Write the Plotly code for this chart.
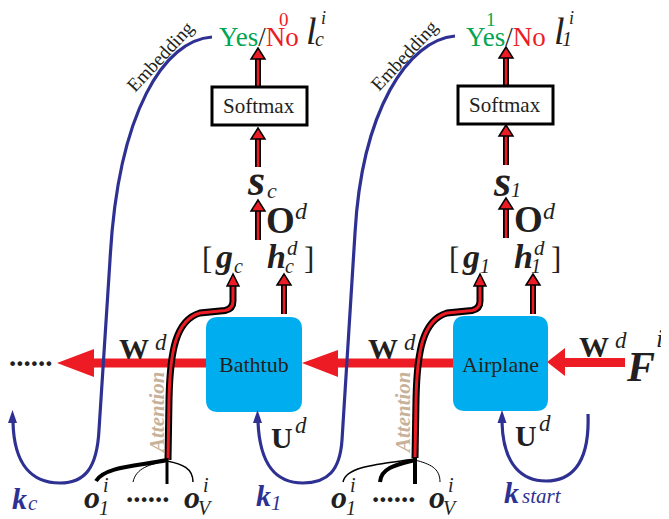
import plotly.graph_objects as go

# ---------------- content (text of the diagram) ----------------
node_labels = ["Bathtub", "Airplane"]
col_subs = ["c", "1"]                      # column subscripts
decision_marks = ["0", "1"]
decision_colors = ["#ED1C24", "#00A651"]
loop_subs = ["c", "1", "start"]
head_label = "Softmax"
edge_label_w = "W"
edge_label_u = "U"
edge_label_o = "O"
feature_label = "F"
curve_label = "Embedding"
attention_label = "Attention"
obj_subs = ["1", "V"]

# ---------------- styles ----------------
W, H = 669, 519
PAD = 8            # page body margin of the browser
RED = "#ED1C24"
GREEN = "#00A651"
BLUE = "#2E3192"
CYAN = "#00AEEF"
TAN = "#C7B299"
INK = "#231F20"
FONT = "Liberation Serif"

shapes = []
annotations = []


def path(d, fill=None, line_color=None, width=0, layer="above"):
    s = dict(type="path", path=d, xref="x", yref="y", layer=layer,
             line=dict(color=line_color or "rgba(0,0,0,0)", width=width))
    if fill:
        s["fillcolor"] = fill
    shapes.append(s)


def line(d, color, width):
    path(d, None, color, width)


def txt(x, y, s, size, color=INK, angle=0, xanchor="center"):
    annotations.append(dict(x=x, y=y, xref="x", yref="y", text=s, showarrow=False,
                            font=dict(family=FONT, size=size, color=color),
                            textangle=angle, xanchor=xanchor, yanchor="middle",
                            borderpad=0))


def rrect(x0, y0, x1, y1, r):
    return (f"M {x0+r} {y0} L {x1-r} {y0} Q {x1} {y0} {x1} {y0+r} L {x1} {y1-r} "
            f"Q {x1} {y1} {x1-r} {y1} L {x0+r} {y1} Q {x0} {y1} {x0} {y1-r} "
            f"L {x0} {y0+r} Q {x0} {y0} {x0+r} {y0} Z")


def up_head(x, tip, hw=7, hh=11):
    path(f"M {x} {tip} L {x-hw} {tip+hh} L {x+hw} {tip+hh} Z", RED, "#000000", 1.5)


def up_arrow(x, y0, tip):
    line(f"M {x} {y0} L {x} {tip+8}", "#000000", 6)
    line(f"M {x} {y0} L {x} {tip+8}", RED, 2.5)
    up_head(x, tip)


# ---------------- red horizontal arrows (W^d) ----------------
path("M 90 358.5 L 206 358.5 L 206 367.5 L 90 367.5 Z", RED)
path("M 57 363 L 94 349 L 94 377 Z", RED)
path("M 336 358.5 L 453 358.5 L 453 367.5 L 336 367.5 Z", RED)
path("M 302 363 L 338 350 L 338 377 Z", RED)
path("M 563 358 L 625 358 L 625 367 L 563 367 Z", RED)
path("M 547 362 L 565 348 L 565 376 Z", RED)

# ---------------- cyan nodes ----------------
path(rrect(206, 317, 302, 412, 12), CYAN)
path(rrect(453, 316, 548, 411, 12), CYAN)
txt(254, 364, node_labels[0], 22)
txt(500, 364, node_labels[1], 22)

# ---------------- blue embedding curves ----------------
line("M 212 37 C 165 40, 118 110, 110 260 L 99 430 C 97 468, 85 483, 60 483 "
     "C 33 483, 14 466, 13 422", BLUE, 3.2)
path("M 12.5 410 L 8 423 L 17 423 Z", BLUE)
line("M 455 36 C 408 40, 362 110, 355 233 L 342 440 C 340 470, 328 483, 303 483 "
     "C 278 483, 260 468, 258 422", BLUE, 3.2)
path("M 257.5 410 L 253 423 L 262 423 Z", BLUE)
line("M 588 414 C 590 468, 568 481, 546 481 C 523 481, 503 466, 502 422", BLUE, 3.2)
path("M 502 410 L 497.5 423 L 506.5 423 Z", BLUE)

# ---------------- attention paths ----------------
for d in ["M 168 460 L 169 400 C 170 350, 176 320, 200 313 L 225 310.5 Q 233 309 233 301 L 233 282",
          "M 415 458 L 416 400 C 417 350, 423 320, 447 313 L 472 310.5 Q 480 309 480 301 L 480 282"]:
    line(d, "#000000", 7)
    line(d, RED, 3)
up_head(233, 274, 6, 12)
up_head(480, 274, 6, 12)

# h arrows
up_arrow(284, 314, 274)
up_arrow(533, 314, 274)

# column arrows
for x, segs in [(258, [(240, 200), (167, 128), (87, 48)]),
                (506, [(238, 198), (165, 125), (86, 47)])]:
    for y0, tip in segs:
        up_arrow(x, y0, tip)

# ---------------- fan lines ----------------
line("M 167 460 C 140 466, 105 466, 96 481", "#000000", 4)
line("M 167 461 C 150 464, 136 468, 133 482", "#000000", 1)
line("M 167 458 L 167 484", "#000000", 3)
line("M 167 461 C 182 464, 193 468, 193 482", "#000000", 1.5)
line("M 415 459 C 380 464, 346 466, 343 482", "#000000", 1.5)
line("M 415 460 C 395 465, 381 468, 380 482", "#000000", 4)
line("M 415 457 L 415 484", "#000000", 4)
line("M 415 460 C 430 464, 440 468, 440 482", "#000000", 1)

# ---------------- softmax boxes ----------------
path("M 212 87 L 307 87 L 307 125 L 212 125 Z", "#FFFFFF", "#000000", 3)
path("M 458 86 L 553 86 L 553 124 L 458 124 Z", "#FFFFFF", "#000000", 3)
txt(259, 106, head_label, 21)
txt(505, 105, head_label, 21)

# ---------------- top labels ----------------
yesno = f"<span style='color:{GREEN}'>Yes</span>/<span style='color:{RED}'>No</span>"
txt(258.5, 37, yesno, 27)
txt(505.5, 37, yesno, 27)
txt(284, 19, decision_marks[0], 19, decision_colors[0])
txt(491, 19, decision_marks[1], 19, decision_colors[1])
for xl, sub in [(311, col_subs[0]), (559, col_subs[1])]:
    txt(xl, 31, "<i>l</i>", 38)
    txt(xl + 8, 39, f"<i>{sub}</i>", 20)
    txt(xl + 12, 18, "<i>i</i>", 18)

# s labels
txt(256, 180, "<b><i>s</i></b>", 44)
txt(272, 190, f"<i>{col_subs[0]}</i>", 22)
txt(502, 181, "<b><i>s</i></b>", 44)
txt(516, 190, f"<i>{col_subs[1]}</i>", 20)

# O^d
for xo, yo in [(280, 220), (528, 219)]:
    txt(xo, yo, f"<b>{edge_label_o}</b>", 37)
    txt(xo + 21, 211, "<i>d</i>", 24)

# [g h] rows
for xb, sub in [(207, col_subs[0]), (454, col_subs[1])]:
    txt(xb, 258, "[", 31)
    txt(xb + 17, 256, "<b><i>g</i></b>", 34)
    txt(xb + 31, 266, f"<i>{sub}</i>", 20)
    txt(xb + 69, 256, "<b><i>h</i></b>", 34)
    txt(xb + 82, 266, f"<i>{sub}</i>", 20)
    txt(xb + 85, 248, "<i>d</i>", 21)
    txt(xb + 102, 258, "]", 31)

# W^d labels
for xw, yw in [(134, 348), (383, 348), (594, 346)]:
    txt(xw, yw, f"<b>{edge_label_w}</b>", 30)
    txt(xw + 27, yw - 6, "<i>d</i>", 23)

# F^i
txt(640, 367, f"<b><i>{feature_label}</i></b>", 42)
txt(659, 338, "<i>i</i>", 26)

# U^d
for xu, yu in [(282, 437), (526, 435)]:
    txt(xu, yu, f"<b>{edge_label_u}</b>", 30)
    txt(xu + 19, yu - 12, "<i>d</i>", 23)

# k labels
txt(19, 498, "<b><i>k</i></b>", 30, BLUE)
txt(33, 503, f"<i>{loop_subs[0]}</i>", 21, BLUE)
txt(263, 495, "<b><i>k</i></b>", 30, BLUE)
txt(276, 503, f"<i>{loop_subs[1]}</i>", 21, BLUE)
txt(511, 492, "<b><i>k</i></b>", 30, BLUE)
txt(521, 496, f"<i>{loop_subs[2]}</i>", 21, BLUE, xanchor="left")

# o labels
for xo, xd, xv in [(92, 148, 192), (339, 394, 437)]:
    txt(xo, 497, "<b><i>o</i></b>", 32)
    txt(xo + 14, 485, "<i>i</i>", 20)
    txt(xo + 12, 508, f"<i>{obj_subs[0]}</i>", 20)
    txt(xd, 492, "<b>......</b>", 29)
    txt(xv, 497, "<b><i>o</i></b>", 32)
    txt(xv + 14, 485, "<i>i</i>", 20)
    txt(xv + 13, 508, f"<i>{obj_subs[1]}</i>", 20)

txt(31, 356, "<b>......</b>", 29)

# rotated labels
txt(160, 56, curve_label, 19, INK, angle=-47)
txt(404, 55, curve_label, 19, INK, angle=-47)
txt(157, 413, f"<b><i>{attention_label}</i></b>", 21, TAN, angle=-90)
txt(403, 413, f"<b><i>{attention_label}</i></b>", 21, TAN, angle=-90)

fig = go.Figure()
fig.update_layout(
    width=W - PAD, height=H - PAD, margin=dict(l=0, r=0, t=0, b=0),
    paper_bgcolor="white", plot_bgcolor="white",
    xaxis=dict(range=[PAD, W], visible=False, fixedrange=True),
    yaxis=dict(range=[H, PAD], visible=False, fixedrange=True),
    shapes=shapes, annotations=annotations, showlegend=False,
)
fig.write_html("out.html")
